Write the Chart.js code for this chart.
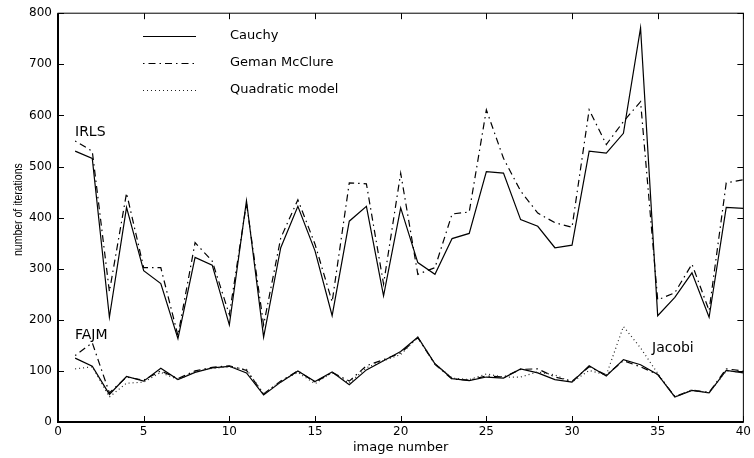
<!DOCTYPE html>
<html>
<head>
<meta charset="utf-8">
<script src="https://cdn.jsdelivr.net/npm/chart.js@4"></script>
<style>
  html, body { margin: 0; padding: 0; background: #fff; }
  #wrap { width: 754px; height: 458px; }
</style>
</head>
<body>
<div id="wrap"><canvas id="chart"></canvas></div>
<script>
const imageNumbers = [1, 2, 3, 4, 5, 6, 7, 8, 9, 10, 11, 12, 13, 14, 15, 16, 17, 18, 19, 20,
    21, 22, 23, 24, 25, 26, 27, 28, 29, 30, 31, 32, 33, 34, 35, 36, 37, 38, 39, 40];

// IRLS
const irlsCauchy = [530, 516, 205, 420, 296, 271, 163, 322, 307, 190, 433, 166, 341, 422, 335, 208, 393, 422, 247, 419,
    312, 289, 359, 369, 490, 487, 396, 383, 341, 346, 530, 526, 565, 771, 208, 244, 292, 205, 420, 418];
const irlsGeman = [550, 530, 255, 448, 302, 302, 169, 351, 315, 210, 428, 190, 360, 435, 348, 235, 468, 466, 270, 487,
    289, 302, 407, 411, 611, 516, 452, 409, 390, 381, 611, 543, 588, 627, 239, 253, 309, 218, 468, 474];

// FAJM
const fajmCauchy = [125, 109, 54, 89, 80, 105, 83, 97, 106, 109, 96, 53, 78, 100, 79, 98, 73, 102, 120, 138,
    166, 114, 85, 81, 88, 86, 104, 96, 83, 78, 110, 90, 122, 112, 93, 49, 62, 57, 101, 96];
const fajmGeman = [130, 155, 57, 88, 82, 100, 85, 100, 107, 110, 101, 55, 80, 100, 78, 97, 80, 110, 122, 135,
    165, 113, 84, 82, 90, 88, 103, 104, 88, 80, 108, 92, 120, 108, 93, 50, 62, 58, 104, 100];

// Jacobi (quadratic model)
const jacobiQuad = [104, 108, 49, 76, 78, 97, 83, 98, 105, 108, 103, 55, 80, 97, 75, 97, 76, 106, 120, 132,
    166, 114, 86, 83, 94, 88, 88, 98, 92, 78, 101, 92, 187, 145, 95, 49, 63, 57, 100, 97];

const legendNames = ['Cauchy', 'Geman McClure', 'Quadratic model'];
const xTicks = [0, 5, 10, 15, 20, 25, 30, 35, 40];
const yTicks = [0, 100, 200, 300, 400, 500, 600, 700, 800];

const solid = [];
const dashDot = [1.5, 4, 7, 4];
const dotted = [1, 3];

function pts(values) {
    return values.map((v, i) => ({ x: imageNumbers[i], y: v }));
}

function series(label, values, dash, color) {
    return {
        label: label,
        data: pts(values),
        borderColor: color,
        borderWidth: 1.2,
        borderDash: dash,
        pointRadius: 0,
        fill: false,
        tension: 0
    };
}

const datasets = [
    series('IRLS Geman McClure', irlsGeman, dashDot, '#000'),
    series('IRLS Cauchy', irlsCauchy, solid, '#000'),
    series('Jacobi Quadratic model', jacobiQuad, dotted, '#222'),
    series('FAJM Geman McClure', fajmGeman, dashDot, '#000'),
    series('FAJM Cauchy', fajmCauchy, solid, '#000')
];

const legendStyles = [
    { dash: solid, color: '#000' },
    { dash: dashDot, color: '#000' },
    { dash: dotted, color: '#222' }
];

// box, inward ticks, legend, y title and labels
const framePlugin = {
    id: 'frame',
    afterDraw(chart) {
        const ctx = chart.ctx;
        const a = chart.chartArea;
        const xs = chart.scales.x;
        const ys = chart.scales.y;
        ctx.save();
        ctx.strokeStyle = '#000';
        ctx.lineWidth = 1;
        ctx.strokeRect(a.left, a.top, a.right - a.left, a.bottom - a.top);
        ctx.lineWidth = 2;
        ctx.beginPath();
        ctx.moveTo(a.left, a.top);
        ctx.lineTo(a.left, a.bottom);
        ctx.lineTo(a.right, a.bottom);
        ctx.stroke();

        ctx.lineWidth = 1;
        ctx.beginPath();
        xTicks.forEach(t => {
            const px = Math.round(xs.getPixelForValue(t)) + 0.5;
            ctx.moveTo(px, a.bottom); ctx.lineTo(px, a.bottom - 6);
            ctx.moveTo(px, a.top); ctx.lineTo(px, a.top + 6);
        });
        yTicks.forEach(t => {
            const py = Math.round(ys.getPixelForValue(t)) + 0.5;
            ctx.moveTo(a.left, py); ctx.lineTo(a.left + 6, py);
            ctx.moveTo(a.right, py); ctx.lineTo(a.right - 6, py);
        });
        ctx.stroke();

        // legend
        ctx.font = '13px "DejaVu Sans"';
        ctx.fillStyle = '#000';
        ctx.textBaseline = 'middle';
        const rows = [36, 63, 90];
        legendNames.forEach((name, i) => {
            const st = legendStyles[i];
            ctx.strokeStyle = st.color;
            ctx.lineWidth = 1.2;
            ctx.setLineDash(st.dash);
            ctx.beginPath();
            ctx.moveTo(143, rows[i] + 0.5);
            ctx.lineTo(196, rows[i] + 0.5);
            ctx.stroke();
            ctx.setLineDash([]);
            ctx.fillText(name, 230, rows[i]);
        });

        // group labels
        ctx.font = '14px "DejaVu Sans"';
        ctx.fillText('IRLS', 75, 132);
        ctx.fillText('FAJM', 75, 335);
        ctx.fillText('Jacobi', 652, 348);

        // y axis title
        ctx.save();
        ctx.translate(18, (a.top + a.bottom) / 2 - 8);
        ctx.rotate(-Math.PI / 2);
        ctx.scale(1, 1.3);
        ctx.font = '10.5px "Liberation Sans"';
        ctx.textAlign = 'center';
        ctx.textBaseline = 'middle';
        ctx.fillText('number of iterations', 0, 0);
        ctx.restore();
        ctx.restore();
    }
};

new Chart(document.getElementById('chart'), {
    type: 'line',
    data: { datasets: datasets },
    options: {
        responsive: true,
        maintainAspectRatio: false,
        animation: false,
        layout: { padding: { left: 0, right: 8, top: 11, bottom: 0 } },
        plugins: {
            legend: { display: false },
            tooltip: { enabled: false }
        },
        scales: {
            x: {
                type: 'linear',
                min: 0,
                max: 40,
                grid: { display: false, drawTicks: false },
                border: { display: false },
                afterFit: s => { s.height = 36; },
                afterBuildTicks: s => { s.ticks = xTicks.map(v => ({ value: v })); },
                ticks: {
                    color: '#000',
                    padding: 3,
                    maxRotation: 0,
                    font: { family: 'DejaVu Sans', size: 12 }
                },
                title: {
                    display: true,
                    text: 'image number',
                    color: '#000',
                    padding: { top: 0, bottom: 3 },
                    font: { family: 'DejaVu Sans', size: 13 }
                }
            },
            y: {
                min: 0,
                max: 800,
                grid: { display: false, drawTicks: false },
                border: { display: false },
                afterFit: s => { s.width = 58; },
                afterBuildTicks: s => { s.ticks = yTicks.map(v => ({ value: v })); },
                ticks: {
                    color: '#000',
                    padding: 6,
                    font: { family: 'DejaVu Sans', size: 12 }
                }
            }
        }
    },
    plugins: [framePlugin]
});
</script>
</body>
</html>
